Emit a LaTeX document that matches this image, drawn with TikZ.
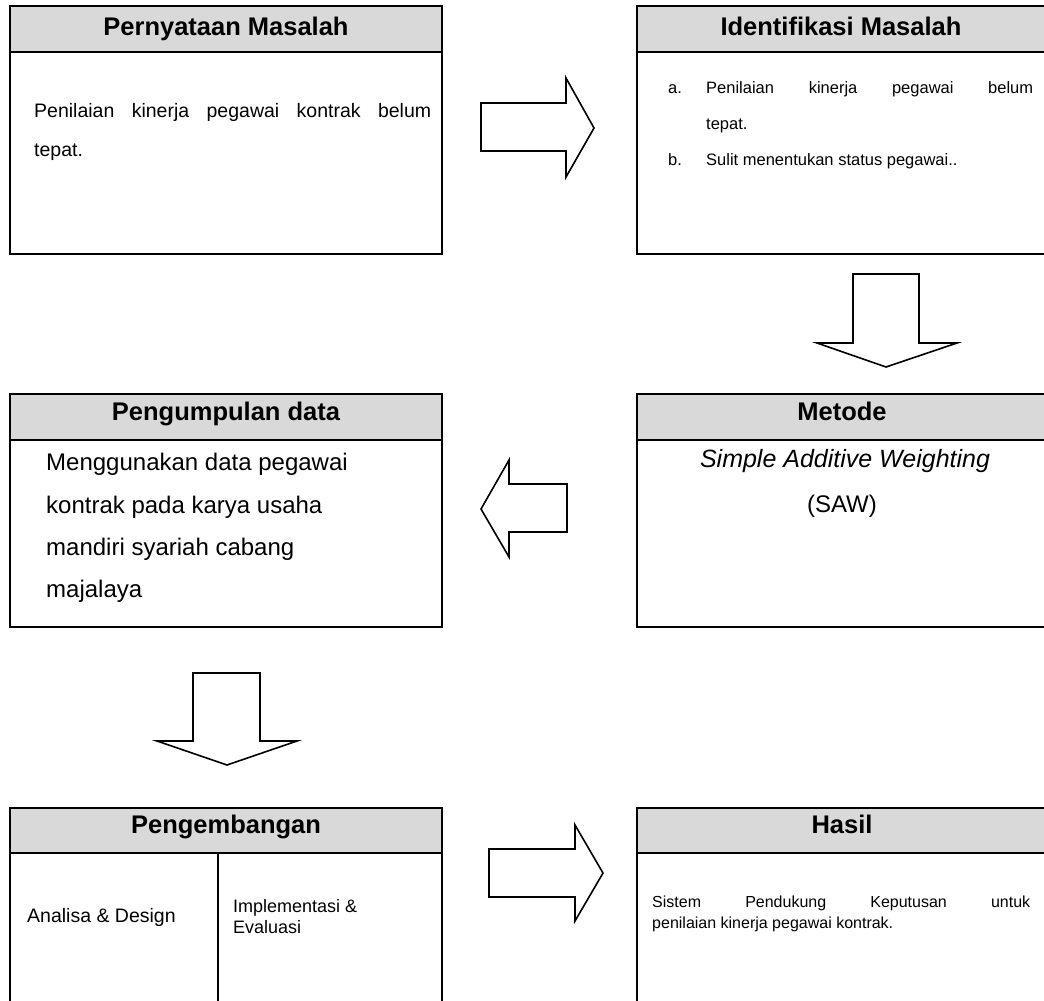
\documentclass[tikz,border=0pt]{standalone}
\usepackage{fontspec}
\setmainfont{Liberation Sans}
\definecolor{hdr}{HTML}{D9D9D9}
\begin{document}
\begin{tikzpicture}[x=1pt,y=-1pt,
  frame/.style={draw=black, line width=2pt},
  headbox/.style={draw=black, line width=2pt, fill=hdr},
  blockarrow/.style={draw=black, line width=1.6pt, fill=white, line join=miter},
  htext/.style={font=\bfseries\fontsize{25.5}{30}\selectfont, anchor=base, inner sep=0pt},
  btext/.style={font=\fontsize{19.5}{23}\selectfont, anchor=base west, inner sep=0pt},
  rtext/.style={font=\fontsize{16.5}{20}\selectfont, anchor=base west, inner sep=0pt},
  stext/.style={font=\fontsize{16}{19}\selectfont, anchor=base west, inner sep=0pt},
  bigtext/.style={font=\fontsize{24}{28}\selectfont, anchor=base west, inner sep=0pt}]
\useasboundingbox (0,0) rectangle (1044,1001);

% ---------- Pernyataan Masalah ----------
\draw[headbox] (10,6) rectangle (442,52);
\draw[frame] (10,52) rectangle (442,254);
\node[htext] (h1) at (226,35) {Pernyataan Masalah};
\node[btext] (t1a) at (34,117) {\makebox[397pt][s]{Penilaian kinerja pegawai kontrak belum}};
\node[btext] (t1b) at (34,156) {tepat.};

% ---------- Identifikasi Masalah ----------
\draw[headbox] (637,6) rectangle (1047,52);
\draw[frame] (637,52) rectangle (1047,254);
\node[htext] (h2) at (841,35) {Identifikasi Masalah};
\node[rtext] (t2a) at (668,93) {a.};
\node[rtext] (t2b) at (706,93) {\makebox[327pt][s]{Penilaian kinerja pegawai belum}};
\node[rtext] (t2c) at (706,129) {tepat.};
\node[rtext] (t2d) at (668,165) {b.};
\node[rtext] (t2e) at (706,165) {Sulit menentukan status pegawai..};

% ---------- Pengumpulan data ----------
\draw[headbox] (10,394) rectangle (442,440);
\draw[frame] (10,440) rectangle (442,627);
\node[htext] (h3) at (226,420) {Pengumpulan data};
\node[bigtext] (t3a) at (46,470) {Menggunakan data pegawai};
\node[bigtext] (t3b) at (46,513) {kontrak pada karya usaha};
\node[bigtext] (t3c) at (46,555) {mandiri syariah cabang};
\node[bigtext] (t3d) at (46,597) {majalaya};

% ---------- Metode ----------
\draw[headbox] (637,394) rectangle (1047,440);
\draw[frame] (637,440) rectangle (1047,627);
\node[htext] (h4) at (842,420) {Metode};
\node[bigtext, anchor=base, font=\itshape\fontsize{25}{29}\selectfont] (t4a) at (845,467) {Simple Additive Weighting};
\node[bigtext, anchor=base] (t4b) at (842,512) {(SAW)};

% ---------- Pengembangan ----------
\draw[headbox] (10,808) rectangle (442,853);
\draw[frame] (10,853) rectangle (442,1012);
\draw[frame] (218,853) -- (218,1012);
\node[htext] (h5) at (226,833) {Pengembangan};
\node[btext] (t5a) at (27,922) {Analisa \& Design};
\node[btext, font=\fontsize{18}{21}\selectfont] (t5b) at (233,912) {Implementasi \&};
\node[btext, font=\fontsize{18}{21}\selectfont] (t5c) at (233,933) {Evaluasi};

% ---------- Hasil ----------
\draw[headbox] (637,808) rectangle (1047,853);
\draw[frame] (637,853) rectangle (1047,1012);
\node[htext] (h6) at (842,833) {Hasil};
\node[stext] (t6a) at (652,907) {\makebox[378pt][s]{Sistem Pendukung Keputusan untuk}};
\node[stext] (t6b) at (652,928) {penilaian kinerja pegawai kontrak.};

% ---------- block arrows ----------
% right, top
\draw[blockarrow] (481,103) -- (566,103) -- (566,78) -- (594,128) -- (566,177) -- (566,151) -- (481,151) -- cycle;
% down, right column
\draw[blockarrow] (853,274) -- (919,274) -- (919,343) -- (957,343) -- (886,367) -- (817,343) -- (853,343) -- cycle;
% left, middle
\draw[blockarrow] (567,484) -- (509,484) -- (509,460) -- (481,509) -- (509,557) -- (509,532) -- (567,532) -- cycle;
% down, left column
\draw[blockarrow] (193,673) -- (260,673) -- (260,741) -- (297,741) -- (227,765) -- (157,741) -- (193,741) -- cycle;
% right, bottom
\draw[blockarrow] (489,849) -- (575,849) -- (575,825) -- (603,873) -- (575,921) -- (575,897) -- (489,897) -- cycle;
\end{tikzpicture}
\end{document}
